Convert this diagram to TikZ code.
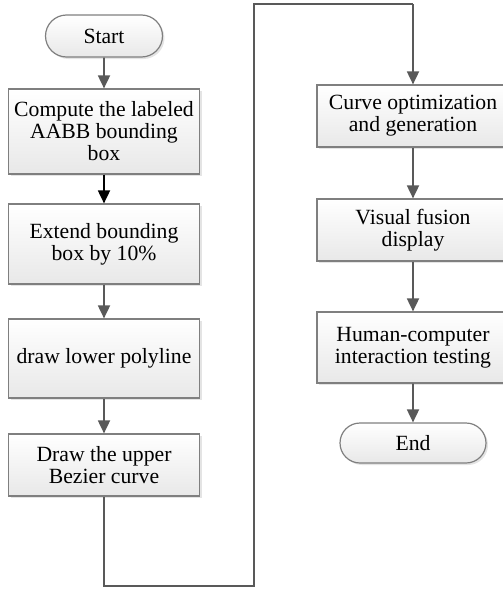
\documentclass[tikz,border=0pt]{standalone}
\usepackage{fontspec}
\setmainfont{Liberation Serif}
\usetikzlibrary{arrows.meta,shapes.misc,shadows}
\definecolor{lgrey}{HTML}{595959}
\definecolor{bord}{HTML}{7F7F7F}
\begin{document}
\begin{tikzpicture}[x=1pt,y=-1pt,
  font=\fontsize{21.7}{22}\selectfont,
  boxbase/.style={draw=bord, line width=1.2pt, top color=white, bottom color=gray!18,
    align=center, inner sep=0pt,
    drop shadow={shadow xshift=2pt, shadow yshift=-2pt, fill=gray!35, opacity=0.6}},
  procbox/.style={boxbase, rectangle, minimum width=191pt},
  termbox/.style={boxbase, rounded rectangle},
  arr/.style={draw=lgrey, line width=1.8pt, -{Triangle[length=13pt,width=12pt]}},
  arrk/.style={draw=black, line width=1.8pt, -{Triangle[length=13pt,width=12pt]}},
  loopline/.style={draw=lgrey, line width=1.6pt}
]
\useasboundingbox (0,0) rectangle (503,589);
% left column
\node[termbox, minimum width=117pt, minimum height=42pt] (start) at (104,36) {Start};
\node[procbox, minimum height=85pt] (b1) at (104,131.5) {Compute the labeled\\AABB bounding\\box};
\node[procbox, minimum height=80pt] (b2) at (104,244) {Extend bounding\\box by 10\%};
\node[procbox, minimum height=79pt] (b3) at (104,358.5) {draw lower polyline};
\node[procbox, minimum height=62pt] (b4) at (104,465) {Draw the upper\\Bezier curve};
% right column
\node[procbox, minimum width=192pt, minimum height=62pt] (b5) at (413,116) {Curve optimization\\and generation};
\node[procbox, minimum width=192pt, minimum height=62pt] (b6) at (413,230) {Visual fusion\\display};
\node[procbox, minimum width=192pt, minimum height=71pt] (b7) at (413,347.5) {Human-computer\\interaction testing};
\node[termbox, minimum width=146pt, minimum height=40pt] (end) at (413,443) {End};
% loop coordinates
\coordinate (l1) at (104,586);
\coordinate (l2) at (254,586);
\coordinate (l3) at (254,4);
\coordinate (l4) at (413,4);
% connectors
\draw[arr] (start) -- (b1);
\draw[arrk] (b1) -- (b2);
\draw[arr] (b2) -- (b3);
\draw[arr] (b3) -- (b4);
\draw[loopline] (b4.south) -- (l1) -- (l2) -- (l3) -- (l4);
\draw[arr] (l4) -- (b5.north);
\draw[arr] (b5) -- (b6);
\draw[arr] (b6) -- (b7);
\draw[arr] (b7) -- (end);
\end{tikzpicture}
\end{document}
